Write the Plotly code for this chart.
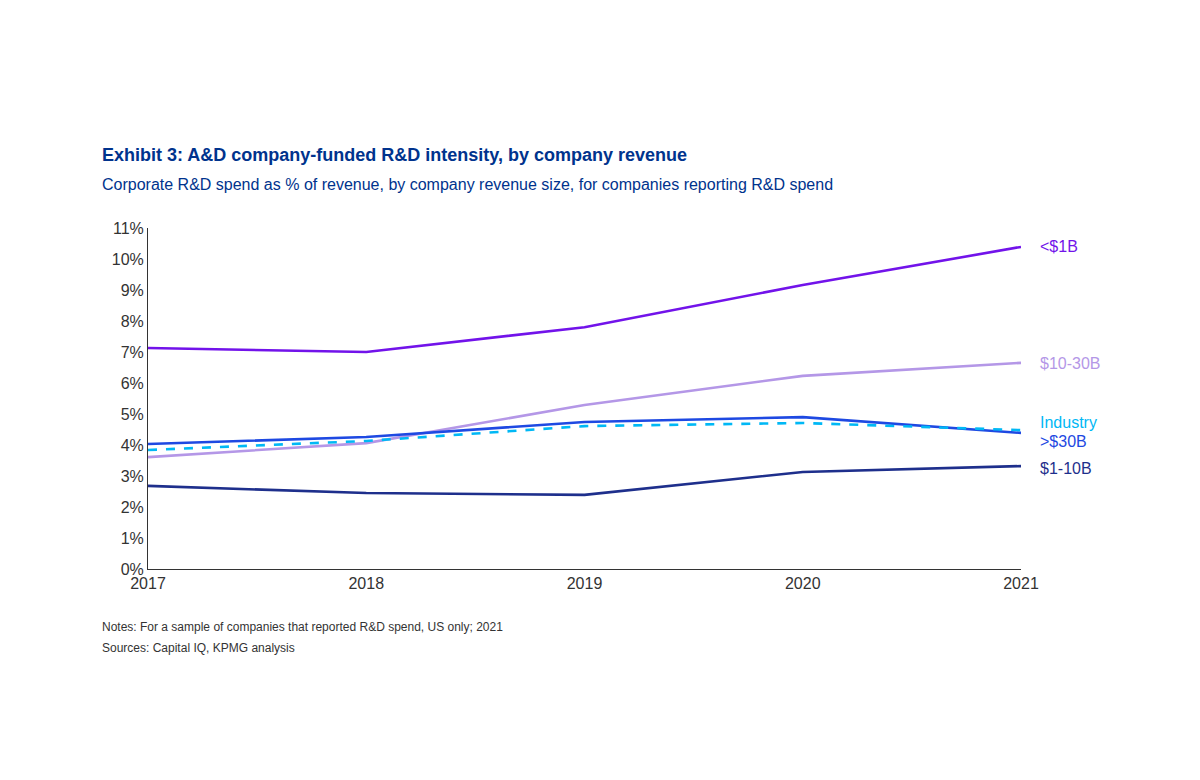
import plotly.graph_objects as go

years = [2017, 2018, 2019, 2020, 2021]
lt1b = [7.13, 7.0, 7.8, 9.16, 10.39]
b10_30 = [3.61, 4.06, 5.29, 6.23, 6.65]
gt30b = [4.03, 4.26, 4.74, 4.9, 4.39]
industry = [3.84, 4.13, 4.61, 4.71, 4.48]
b1_10 = [2.68, 2.45, 2.39, 3.13, 3.32]
yticks = list(range(0, 12))

series = [
    ("$10-30B", b10_30, "#B497E7", "solid", 363),
    ("$1-10B", b1_10, "#1E2F8C", "solid", 468),
    (">$30B", gt30b, "#1E49E2", "solid", 441),
    ("Industry", industry, "#00B8F5", "dash", 422),
    ("<$1B", lt1b, "#7213EA", "solid", 246),
]

L, R, T, B = 140, 187, 220, 219
OFF = 8

fig = go.Figure()
for name, vals, col, dash, _ in series:
    fig.add_trace(go.Scatter(x=years, y=vals, mode="lines", name=name,
                             line=dict(color=col, width=2.6, dash=dash)))
for name, vals, col, dash, py in series:
    fig.add_annotation(x=1.02, xref="paper", y=(569 - py) / 31, yref="y", text=name,
                       showarrow=False, xanchor="left", font=dict(size=16, color=col))

fig.update_layout(
    width=1200, height=780, paper_bgcolor="white", plot_bgcolor="white",
    showlegend=False, font=dict(family="Liberation Sans, Arial", color="#333"),
    margin=dict(l=L, r=R, t=T, b=B),
    xaxis=dict(range=[2017, 2021], tickvals=years, showline=True, linecolor="#333",
               showgrid=False, ticks="", tickfont=dict(size=16, color="#333"), zeroline=False),
    yaxis=dict(range=[0, 11], tickvals=yticks, ticktext=[f"{v}%" for v in yticks],
               showline=True, linecolor="#333", showgrid=False, ticks="",
               tickfont=dict(size=16, color="#333"), zeroline=False),
)
def ftxt(text, ypx, size, color, bold=False):
    fx = (100 - OFF - L) / (1200 - L - R)
    fy = (780 - B - (ypx - OFF)) / (780 - T - B)
    fig.add_annotation(x=fx, y=fy, xref="paper", yref="paper",
                       text=f"<b>{text}</b>" if bold else text, showarrow=False,
                       xanchor="left", yanchor="middle", font=dict(size=size, color=color))
ftxt("Exhibit 3: A&D company-funded R&D intensity, by company revenue", 155, 18, "#00338D", True)
ftxt("Corporate R&D spend as % of revenue, by company revenue size, for companies reporting R&D spend", 185, 16, "#00338D")
ftxt("Notes: For a sample of companies that reported R&D spend, US only; 2021", 627, 12, "#333")
ftxt("Sources: Capital IQ, KPMG analysis", 648, 12, "#333")
fig.write_html("out.html")
